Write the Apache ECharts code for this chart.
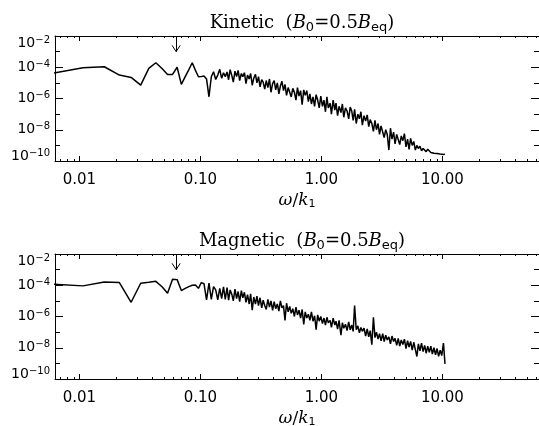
<!DOCTYPE html>
<html>
<head>
<meta charset="utf-8">
<title>Kinetic and magnetic spectra</title>
<script src="https://cdn.jsdelivr.net/npm/echarts@6/dist/echarts.min.js"></script>
<style>
html, body { margin: 0; padding: 0; background: #fff; }
#chart { width: 539px; height: 426px; }
</style>
</head>
<body>
<div id="chart"></div>
<script>
// omega/k1, shared by both spectra (the low end is the real grid, the dense part is thinned out)
const omega = [
  0.00535, 0.0107, 0.01605, 0.0214, 0.02675, 0.0321, 0.03745, 0.0428, 0.04815, 0.0535,
  0.05885, 0.0642, 0.06955, 0.0749, 0.08025, 0.0856, 0.09095, 0.0963, 0.10165, 0.107,
  0.11235, 0.1177, 0.12305, 0.1284, 0.13375, 0.1391, 0.14445, 0.1498, 0.15515, 0.1605,
  0.166, 0.171, 0.176, 0.182, 0.187, 0.193, 0.199, 0.205, 0.211, 0.218,
  0.224, 0.231, 0.238, 0.245, 0.253, 0.26, 0.268, 0.276, 0.285, 0.293,
  0.302, 0.311, 0.321, 0.33, 0.34, 0.35, 0.361, 0.372, 0.383, 0.395,
  0.407, 0.419, 0.432, 0.445, 0.458, 0.472, 0.486, 0.5, 0.515, 0.531,
  0.547, 0.563, 0.58, 0.598, 0.616, 0.634, 0.653, 0.673, 0.693, 0.714,
  0.735, 0.757, 0.78, 0.803, 0.827, 0.852, 0.878, 0.904, 0.931, 0.959,
  0.988, 1.02, 1.05, 1.08, 1.11, 1.14, 1.18, 1.21, 1.25, 1.29,
  1.32, 1.36, 1.4, 1.45, 1.49, 1.53, 1.58, 1.63, 1.68, 1.73,
  1.78, 1.83, 1.88, 1.94, 2.0, 2.06, 2.12, 2.18, 2.25, 2.32,
  2.39, 2.46, 2.53, 2.61, 2.69, 2.77, 2.85, 2.94, 3.02, 3.11,
  3.21, 3.3, 3.4, 3.5, 3.61, 3.72, 3.83, 3.95, 4.06, 4.19,
  4.31, 4.44, 4.57, 4.71, 4.85, 5.0, 5.15, 5.3, 5.46, 5.63,
  5.8, 5.97, 6.15, 6.33, 6.52, 6.72, 6.92, 7.13, 7.34, 7.56,
  7.79, 8.02, 8.26, 8.51, 8.77, 9.03, 9.3, 9.58, 9.87, 10.2,
  10.5
]

// log10 of the spectra
const kineticLog = [
  -4.45, -4.03, -3.97, -4.5, -4.65, -5.14, -4.07, -3.71, -4.08, -4.46,
  -4.46, -4.0, -5.1, -4.6, -4.15, -3.71, -4.2, -4.61, -4.6, -4.56,
  -4.75, -5.89, -4.61, -4.29, -4.78, -4.5, -4.13, -4.71, -4.35, -4.6,
  -4.3, -4.8, -4.15, -4.55, -4.95, -4.25, -4.6, -4.2, -4.85, -4.4,
  -4.6, -4.35, -5.05, -4.5, -4.75, -4.4, -5.15, -4.7, -4.45, -5.0,
  -4.6, -5.25, -4.8, -4.95, -5.4, -4.85, -5.3, -4.75, -5.6, -5.05,
  -4.85, -5.45, -5.0, -5.7, -5.2, -4.9, -5.5, -5.1, -5.8, -5.3,
  -5.2, -5.9, -5.35, -5.6, -6.1, -5.3, -5.85, -5.5, -6.4, -5.45,
  -5.8, -5.5, -6.2, -5.7, -6.35, -5.9, -6.5, -5.75, -6.1, -6.6,
  -5.85, -6.5, -6.1, -6.85, -5.9, -6.6, -6.3, -7.0, -6.1, -6.75,
  -6.3, -7.1, -6.5, -6.9, -6.35, -7.2, -6.6, -6.8, -7.3, -6.55,
  -6.8, -7.4, -6.7, -7.6, -7.0, -7.3, -6.85, -7.7, -7.1, -7.45,
  -7.05, -7.8, -7.35, -7.6, -8.1, -7.4, -8.0, -7.6, -8.3, -7.75,
  -7.7, -8.5, -8.0, -8.3, -9.3, -7.9, -8.6, -8.15, -8.9, -8.3,
  -8.2, -8.95, -8.4, -8.7, -8.25, -9.1, -8.6, -9.25, -8.55, -9.0,
  -8.75, -9.3, -9.0, -9.2, -9.05, -9.35, -9.2, -9.3, -9.4, -9.25,
  -9.35, -9.45, -9.4, -9.5, -9.42, -9.52, -9.48, -9.55, -9.5, -9.58,
  -9.56
]

const magneticLog = [
  -3.91, -4.04, -3.79, -3.83, -5.09, -3.87, -3.81, -3.75, -4.1, -4.51,
  -3.62, -3.64, -4.34, -4.2, -4.09, -4.0, -3.98, -4.2, -3.83, -3.9,
  -4.94, -3.87, -4.9, -4.09, -4.3, -4.94, -4.2, -4.85, -4.1, -4.9,
  -4.15, -4.95, -4.3, -4.6, -5.0, -4.25, -4.85, -4.4, -5.05, -4.35,
  -4.8, -4.45, -5.1, -4.6, -5.2, -4.55, -5.6, -4.75, -5.2, -4.7,
  -5.3, -4.8, -5.45, -4.95, -5.3, -5.55, -4.9, -5.4, -5.0, -5.6,
  -5.05, -5.5, -5.2, -5.65, -5.0, -5.45, -5.3, -6.25, -5.15, -5.7,
  -5.35, -5.8, -5.5, -6.0, -5.4, -5.9, -5.6, -6.1, -5.55, -6.5,
  -5.7, -6.1, -5.85, -6.25, -5.7, -6.3, -5.95, -6.85, -5.9, -6.3,
  -6.0, -6.45, -6.1, -6.55, -6.05, -6.4, -6.25, -6.7, -6.1, -6.55,
  -6.3, -6.8, -6.25, -7.2, -6.4, -6.75, -6.5, -6.9, -6.35, -6.85,
  -6.55, -6.95, -5.3, -6.85, -6.6, -7.05, -6.7, -6.95, -6.75, -7.25,
  -6.8, -7.3, -6.9, -7.8, -6.05, -7.35, -7.0, -7.45, -7.1, -7.55,
  -7.1, -7.6, -7.2, -7.5, -7.3, -7.75, -7.25, -7.6, -7.4, -7.85,
  -7.4, -7.9, -7.5, -7.8, -7.45, -8.05, -7.55, -7.95, -7.6, -8.15,
  -7.65, -8.1, -8.56, -7.75, -8.2, -7.7, -8.25, -7.85, -8.35, -7.9,
  -8.3, -7.9, -8.4, -8.0, -8.45, -8.05, -8.55, -8.15, -8.5, -7.7,
  -9.03
]

const titles = ['Kinetic', 'Magnetic']
const xMin = 0.0062832
const xMax = 62.832
const xMinorTicks = [
  0.007, 0.008, 0.009, 0.02, 0.03, 0.04, 0.05, 0.06, 0.07, 0.08, 0.09,
  0.2, 0.3, 0.4, 0.5, 0.6, 0.7, 0.8, 0.9, 2, 3, 4, 5, 6, 7, 8, 9,
  20, 30, 40, 50, 60,
]
const arrowOmega = 0.063

const black = '#000'
const sans = 'DejaVu Sans'
const serif = 'DejaVu Serif'

const gridTops = [36, 254]

// y labels: 10^n, the top and bottom ones pushed inside the box
const yRich = {
  a: { fontFamily: sans, fontSize: 14, color: black },
  b: { fontFamily: sans, fontSize: 10, color: black, padding: [0, 0, 6, 0] },
  aT: { fontFamily: sans, fontSize: 14, color: black, padding: [15, 0, 0, 0] },
  bT: { fontFamily: sans, fontSize: 10, color: black, padding: [15, 0, 6, 0] },
  aB: { fontFamily: sans, fontSize: 14, color: black, padding: [0, 0, 10, 0] },
  bB: { fontFamily: sans, fontSize: 10, color: black, padding: [0, 0, 16, 0] },
}
function yLabel(v) {
  let k = ''
  if (v === -2) k = 'T'
  if (v === -10) k = 'B'
  return `{a${k}|10}{b${k}|\u2212${-v}}`
}

const minorLog = xMinorTicks.map((v) => Math.log10(v))

function xAxesFor(g) {
  const line = { onZero: false, lineStyle: { color: black, width: 1 } }
  const logBase = {
    type: 'log', gridIndex: g, min: xMin, max: xMax,
    splitLine: { show: false },
  }
  const minorBase = {
    type: 'value', gridIndex: g, min: Math.log10(xMin), max: Math.log10(xMax),
    axisLine: { show: false, onZero: false },
    axisTick: { inside: true, length: 2, customValues: minorLog, lineStyle: { color: black } },
    axisLabel: { show: false },
    splitLine: { show: false },
  }
  return [
    {
      ...logBase,
      position: 'bottom',
      axisLine: line,
      axisTick: { inside: true, length: 5, lineStyle: { color: black } },
      axisLabel: {
        margin: 12, color: black, fontFamily: sans, fontSize: 15,
        showMinLabel: false, showMaxLabel: false,
        formatter: (v) => v.toFixed(2),
      },
      name: '{i|\u03c9}{n|/}{i|k}{s|1}',
      nameLocation: 'middle',
      nameGap: 30,
      nameTextStyle: {
        rich: {
          i: { fontFamily: serif, fontStyle: 'italic', fontSize: 17, color: black },
          n: { fontFamily: serif, fontSize: 17, color: black },
          s: { fontFamily: sans, fontSize: 11, color: black, padding: [8, 0, 0, 0] },
        },
      },
    },
    { ...minorBase, position: 'bottom' },
    {
      ...logBase,
      position: 'top',
      axisLine: line,
      axisTick: { inside: true, length: 5, lineStyle: { color: black } },
      axisLabel: { show: false },
    },
    { ...minorBase, position: 'top' },
  ]
}

function yAxesFor(g) {
  const base = { type: 'value', gridIndex: g, min: -10, max: -2, splitLine: { show: false } }
  const line = { onZero: false, lineStyle: { color: black, width: 1 } }
  const longTick = { inside: true, length: 8, lineStyle: { color: black } }
  const shortTick = { inside: true, length: 5, lineStyle: { color: black } }
  return [
    {
      ...base, position: 'left', interval: 2, axisLine: line, axisTick: longTick,
      axisLabel: { margin: 5, formatter: yLabel, rich: yRich },
    },
    { ...base, position: 'left', interval: 1, axisLine: { show: false, onZero: false }, axisTick: shortTick, axisLabel: { show: false } },
    { ...base, position: 'right', interval: 2, axisLine: line, axisTick: longTick, axisLabel: { show: false } },
    { ...base, position: 'right', interval: 1, axisLine: { show: false, onZero: false }, axisTick: shortTick, axisLabel: { show: false } },
  ]
}

// arrow marking omega = 0.063 at the top of each panel
const arrowMark = {
  silent: true,
  symbol: 'none',
  animation: false,
  label: { show: false },
  lineStyle: { color: black, width: 1, type: 'solid' },
  data: [
    [{ coord: [arrowOmega, -2] }, { coord: [arrowOmega, -3] }],
    [{ coord: [arrowOmega, -3] }, { coord: [arrowOmega / 1.08, -2.6] }],
    [{ coord: [arrowOmega, -3] }, { coord: [arrowOmega * 1.08, -2.6] }],
  ],
}

const titleRich = {
  n: { fontFamily: serif, fontSize: 18, fontWeight: 'normal', color: black },
  i: { fontFamily: serif, fontStyle: 'italic', fontWeight: 'normal', fontSize: 18, color: black },
  s: { fontFamily: sans, fontSize: 13, fontWeight: 'normal', color: black, padding: [9, 0, 0, 0] },
}

const spectra = [kineticLog, magneticLog]

const option = {
  animation: false,
  backgroundColor: '#fff',
  title: titles.map((t, g) => ({
    text: `{n|${t}  (}{i|B}{s|0}{n|=0.5}{i|B}{s|eq}{n|)}`,
    left: 297,
    top: gridTops[g] - 29,
    textAlign: 'center',
    textStyle: { fontWeight: 'normal', rich: titleRich },
  })),
  grid: gridTops.map((top) => ({
    left: 55, right: 0, top, height: 125, outerBoundsMode: 'none',
  })),
  xAxis: [...xAxesFor(0), ...xAxesFor(1)],
  yAxis: [...yAxesFor(0), ...yAxesFor(1)],
  series: spectra.map((vals, g) => ({
    type: 'line',
    xAxisIndex: g * 4,
    yAxisIndex: g * 4,
    data: omega.map((w, i) => [w, vals[i]]),
    symbol: 'none',
    clip: true,
    lineStyle: { color: black, width: 1.5 },
    markLine: arrowMark,
  })),
}

const chart = echarts.init(document.getElementById('chart'))
chart.setOption(option)
</script>
</body>
</html>
